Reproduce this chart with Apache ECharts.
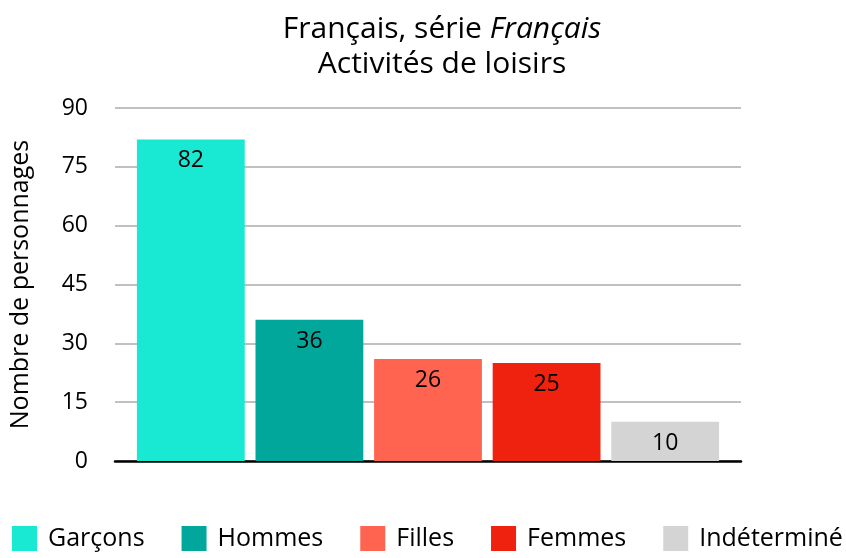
<!DOCTYPE html>
<html>
<head>
<meta charset="utf-8">
<script src="https://cdn.jsdelivr.net/npm/echarts@6/dist/echarts.min.js"></script>
<style>
  html, body { margin: 0; padding: 0; background: #fff; }
  #chart { width: 846px; height: 558px; }
</style>
</head>
<body>
<div id="chart"></div>
<script>
// données
var seriesNames = ['Garçons', 'Hommes', 'Filles', 'Femmes', 'Indéterminé'];
var seriesValues = [82, 36, 26, 25, 10];
var seriesColors = ['#19e8d2', '#02a79c', '#ff6450', '#ee220f', '#d4d4d4'];
var yTicks = [0, 15, 30, 45, 60, 75, 90];

var font = 'Open Sans';
var myChart = echarts.init(document.getElementById('chart'));

var series = seriesNames.map(function (name, i) {
    return {
        name: name,
        type: 'bar',
        data: [seriesValues[i]],
        barGap: '10%',
        barCategoryGap: '7%',
        itemStyle: { color: seriesColors[i] },
        label: {
            show: true,
            position: 'insideTop',
            distance: 10,
            color: '#000',
            fontSize: 23,
            fontFamily: font
        }
    };
});

var option = {
    animation: false,
    title: {
        text: '{n|Français, série }{i|Français}\n{n|Activités de loisirs}',
        left: 437,
        textAlign: 'center',
        top: 7,
        textStyle: {
            fontWeight: 'normal',
            rich: {
                n: { fontSize: 30, fontFamily: font, color: '#000', lineHeight: 35 },
                i: { fontSize: 30, fontFamily: font, color: '#000', fontStyle: 'italic', lineHeight: 35 }
            }
        }
    },
    legend: {
        data: seriesNames,
        left: 12,
        bottom: 7,
        width: 834,
        padding: 0,
        icon: 'rect',
        itemWidth: 25,
        itemHeight: 25,
        itemGap: 37,
        textStyle: { fontSize: 25, fontFamily: font, color: '#000', padding: [0, 0, 0, 6] }
    },
    grid: { left: 112, right: 105, top: 108, bottom: 97 },
    xAxis: {
        type: 'category',
        data: [''],
        axisLine: { lineStyle: { color: '#000', width: 2.5 } },
        axisTick: { show: false },
        axisLabel: { show: false }
    },
    yAxis: {
        type: 'value',
        min: yTicks[0],
        max: yTicks[yTicks.length - 1],
        interval: 15,
        name: 'Nombre de personnages',
        nameLocation: 'middle',
        nameGap: 82,
        nameTextStyle: { fontSize: 25, fontFamily: font, color: '#000' },
        axisLabel: { fontSize: 23, fontFamily: font, color: '#000', margin: 27 },
        axisLine: { show: false },
        axisTick: { show: false },
        splitLine: { lineStyle: { color: '#c0c0c0', width: 2 } }
    },
    series: series
};
myChart.setOption(option);
</script>
</body>
</html>
